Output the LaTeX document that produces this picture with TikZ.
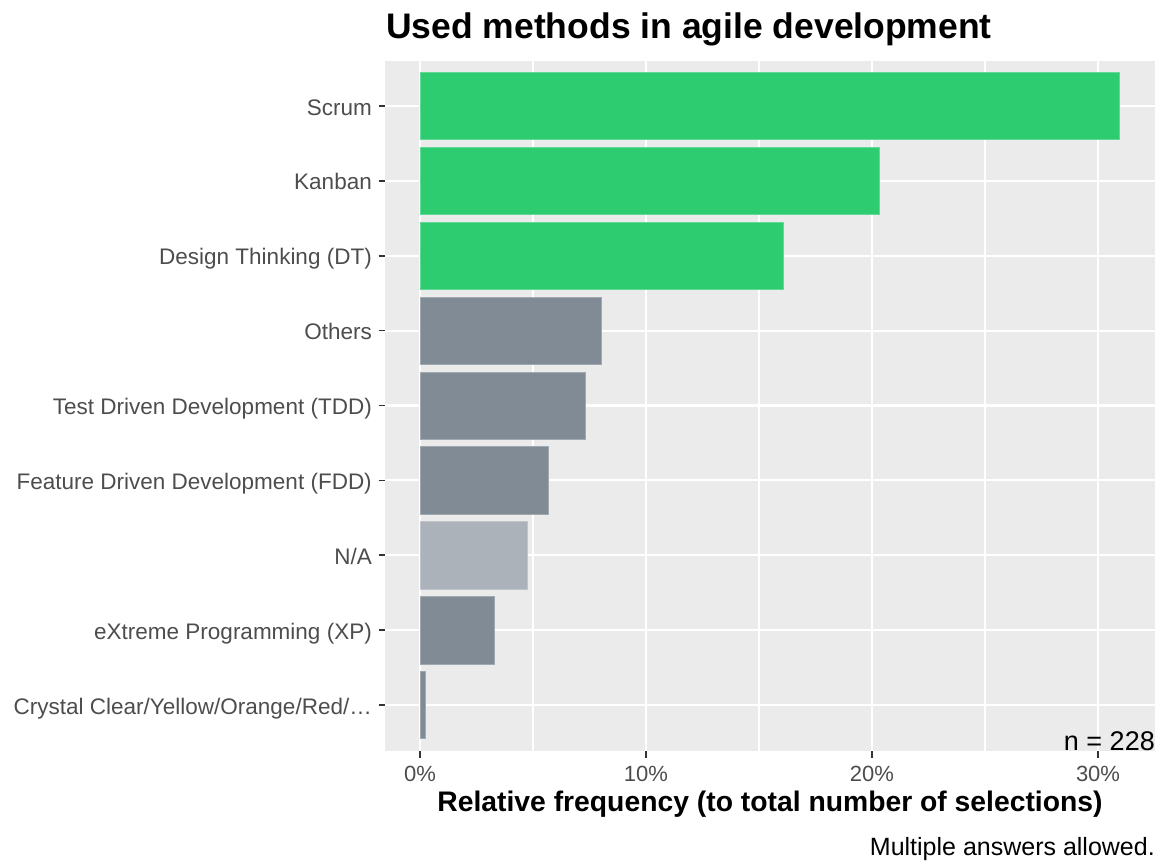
\documentclass[tikz,border=0pt]{standalone}
\usepackage{fontspec}
\setmainfont{Liberation Sans}
\usetikzlibrary{positioning}
\definecolor{barhigh}{RGB}{46,204,113}
\definecolor{barmid}{RGB}{128,139,150}
\definecolor{barlow}{RGB}{171,178,185}
\definecolor{panelbg}{RGB}{235,235,235}
\definecolor{axistext}{RGB}{77,77,77}
\definecolor{tickcol}{RGB}{51,51,51}

\begin{document}
\begin{tikzpicture}[
    x=1pt, y=-1pt,
    bar/.style={draw=#1!75!white, fill=#1, line width=0.6pt},
    majorgrid/.style={white, line width=2.1pt},
    minorgrid/.style={white, line width=1.1pt},
    axtick/.style={tickcol, line width=1.6pt},
    catlabel/.style={anchor=base east, text=axistext, inner sep=0pt, font=\fontsize{22.5}{27}\selectfont},
    pctlabel/.style={anchor=base, text=axistext, inner sep=0pt, font=\fontsize{22}{26}\selectfont}
]
    \useasboundingbox (0,0) rectangle (1161,860);

    % panel and grid
    \fill[panelbg] (385,61) rectangle (1155,750.5);
    \foreach \gx in {533,759,985}
        \draw[minorgrid] (\gx,61) -- (\gx,750.5);
    \foreach \gx in {420,646,872,1098}
        \draw[majorgrid] (\gx,61) -- (\gx,750.5);
    \foreach \gy in {106,180.9,255.75,330.6,405.5,480.4,555.25,630.1,705}
        \draw[majorgrid] (385,\gy) -- (1155,\gy);

    % bars with category labels
    \foreach \name/\gy/\gx/\col/\txt in {
        scrum/106/1119.3/barhigh/Scrum,
        kanban/180.9/879.3/barhigh/Kanban,
        dt/255.75/783/barhigh/Design Thinking (DT),
        others/330.6/601.7/barmid/Others,
        tdd/405.5/585.7/barmid/Test Driven Development (TDD),
        fdd/480.4/548.7/barmid/Feature Driven Development (FDD),
        na/555.25/527/barlow/{N/A},
        xp/630.1/494.7/barmid/eXtreme Programming (XP),
        crystal/705/425.3/barmid/{Crystal Clear/Yellow/Orange/Red/…}}
    {
        \draw[bar=\col] (420,\gy-33.7) rectangle (\gx,\gy+33.7);
        \draw[axtick] (378.5,\gy) -- (385,\gy);
        \node[catlabel] (lab-\name) at (372,\gy+9) {\txt};
    }

    \node[anchor=base east, inner sep=0pt, font=\fontsize{27}{32}\selectfont] (count) at (1155,750.5) {n = 228};

    % x axis
    \foreach \gx/\pct in {420/0, 646/10, 872/20, 1098/30}
    {
        \draw[axtick] (\gx,751) -- (\gx,757.5);
        \node[pctlabel] (tick-\pct) at (\gx,781.7) {\pct\%};
    }

    \node[anchor=base west, inner sep=0pt, font=\fontsize{35.5}{42}\selectfont\bfseries] (title) at (386,38.3) {Used methods in agile development};
    \node[anchor=base, inner sep=0pt, font=\fontsize{28.3}{34}\selectfont\bfseries] (xtitle) at (770,811) {Relative frequency (to total number of selections)};
    \node[anchor=base east, inner sep=0pt, font=\fontsize{25}{30}\selectfont] (note) at (1155,855) {Multiple answers allowed.};
\end{tikzpicture}
\end{document}
